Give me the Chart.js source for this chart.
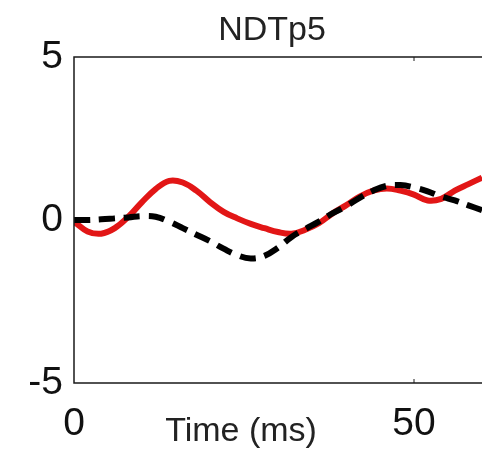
<!DOCTYPE html>
<html>
<head>
<meta charset="utf-8">
<script src="https://cdn.jsdelivr.net/npm/chart.js@4"></script>
<style>
  html, body { margin: 0; padding: 0; background: #fff; overflow: hidden; }
  #wrap { width: 482px; height: 452px; }
</style>
</head>
<body>
<div id="wrap"><canvas id="traceChart" width="482" height="452"></canvas></div>
<script>
// time axis (ms) and the two traces sampled on it
var timeMs = [0, 2, 4, 6, 8, 10, 12, 14, 16, 18, 20, 22, 24, 26, 28, 30,
              32, 34, 36, 38, 40, 42, 44, 46, 48, 50, 52, 54, 56, 58, 60];
var redTrace = [-0.05, -0.35, -0.42, -0.25, 0.1, 0.55, 0.95, 1.2, 1.15, 0.9, 0.55,
                0.25, 0.05, -0.12, -0.25, -0.37, -0.42, -0.3, -0.1, 0.2, 0.45,
                0.72, 0.9, 0.97, 0.9, 0.78, 0.6, 0.65, 0.9, 1.1, 1.3];
var blackTrace = [0.0, 0.0, 0.02, 0.05, 0.08, 0.12, 0.1, -0.05, -0.25, -0.45, -0.65,
                  -0.88, -1.08, -1.18, -1.1, -0.85, -0.52, -0.28, -0.05, 0.2, 0.42,
                  0.68, 0.9, 1.05, 1.07, 1.0, 0.88, 0.72, 0.6, 0.45, 0.3];
var xTicks = [0, 50];
var yTicks = [-5, 0, 5];
var titleText = 'NDTp5';
var xLabelText = 'Time (ms)';

function toPoints(vals) {
  return timeMs.map(function(t, i) { return { x: t, y: vals[i] }; });
}

// box, inward ticks, title and x label
var frame = {
  id: 'frame',
  afterDraw: function(chart) {
    var ctx = chart.ctx;
    var a = chart.chartArea;
    var xs = chart.scales.x;
    ctx.save();
    ctx.strokeStyle = '#1a1a1a';
    ctx.lineWidth = 1.5;
    ctx.beginPath();
    ctx.moveTo(chart.width + 2, a.top);
    ctx.lineTo(a.left, a.top);
    ctx.lineTo(a.left, a.bottom);
    ctx.lineTo(chart.width + 2, a.bottom);
    ctx.stroke();
    ctx.lineWidth = 1;
    xTicks.forEach(function(v) {
      if (v === xs.min) return;
      var px = xs.getPixelForValue(v);
      ctx.beginPath();
      ctx.moveTo(px, a.top); ctx.lineTo(px, a.top + 4);
      ctx.moveTo(px, a.bottom); ctx.lineTo(px, a.bottom - 4);
      ctx.stroke();
    });
    ctx.fillStyle = '#222';
    ctx.textAlign = 'center';
    ctx.textBaseline = 'alphabetic';
    ctx.font = '34px "Liberation Sans", Arial, sans-serif';
    ctx.fillText(titleText, 272, 40);
    ctx.fillText(xLabelText, 241, 441);
    ctx.restore();
  }
};

var ctx = document.getElementById('traceChart').getContext('2d');
var chart = new Chart(ctx, {
  type: 'line',
  data: {
    datasets: [{
      label: 'black',
      data: toPoints(blackTrace),
      borderColor: '#000',
      borderWidth: 6,
      borderDash: [16, 9],
      pointRadius: 0,
      tension: 0.4,
      fill: false,
      order: 1
    }, {
      label: 'red',
      data: toPoints(redTrace),
      borderColor: 'rgb(226, 22, 22)',
      borderWidth: 6,
      pointRadius: 0,
      tension: 0.4,
      fill: false,
      order: 2
    }]
  },
  options: {
    responsive: false,
    animation: false,
    layout: { padding: { top: 57, left: 0, right: 0, bottom: 0 } },
    plugins: {
      legend: { display: false },
      title: { display: false },
      tooltip: { enabled: false }
    },
    scales: {
      x: {
        type: 'linear',
        min: 0,
        max: 60,
        grid: { display: false },
        border: { display: false },
        afterBuildTicks: function(s) { s.ticks = xTicks.map(function(v) { return { value: v }; }); },
        afterFit: function(s) { s.height = 69; },
        ticks: {
          color: '#111',
          padding: 10,
          maxRotation: 0,
          font: { family: '"Liberation Sans", Arial, sans-serif', size: 39, lineHeight: 1.2 }
        }
      },
      y: {
        min: -5,
        max: 5,
        grid: { display: false, drawTicks: false },
        border: { display: false },
        afterBuildTicks: function(s) { s.ticks = yTicks.map(function(v) { return { value: v }; }); },
        afterFit: function(s) { s.width = 74; },
        ticks: {
          color: '#111',
          padding: 11,
          font: { family: '"Liberation Sans", Arial, sans-serif', size: 39, lineHeight: 1.2 }
        }
      }
    }
  },
  plugins: [frame]
});
</script>
</body>
</html>
